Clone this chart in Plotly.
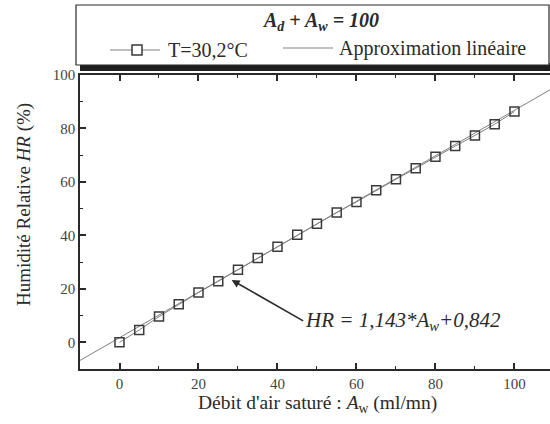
import plotly.graph_objects as go

# ---- data ----
aw = [0, 5, 10, 15, 20, 25, 30, 35, 40, 45, 50, 55, 60, 65, 70, 75, 80, 85, 90, 95, 100]
hr = [0, 4.6, 9.6, 14.2, 18.6, 22.8, 27.1, 31.5, 35.7, 40.2, 44.3, 48.6, 52.5,
      56.9, 61.0, 65.1, 69.4, 73.4, 77.4, 81.6, 86.3]
fit_x = [-10, 110]
fit_y = [-6.8, 95.3]
x_ticks = [0, 20, 40, 60, 80, 100]
y_ticks = [0, 20, 40, 60, 80, 100]

W, H = 550, 424
L, R, T, B = 80, 0, 75, 55
PW, PH = W - L - R, H - T - B


def px(x):
    return (x - L) / PW


def py(y):
    return (H - B - y) / PH


FONT = "Liberation Serif, Times New Roman, serif"
DARK = "#2a2a2a"

fig = go.Figure()
fig.add_trace(go.Scatter(x=fit_x, y=fit_y, mode="lines",
                         line=dict(color="#808080", width=1), showlegend=False,
                         hoverinfo="skip"))
fig.add_trace(go.Scatter(x=aw, y=hr, mode="lines+markers",
                         line=dict(color="#808080", width=1),
                         marker=dict(symbol="square-open", size=9,
                                     color="#3a3a3a", line=dict(width=1.5)),
                         showlegend=False, hoverinfo="skip"))

axis_common = dict(showgrid=False, zeroline=False, showline=True, linecolor=DARK,
                   linewidth=1.5, ticks="inside", ticklen=6, tickwidth=1.5,
                   tickcolor=DARK,
                   tickfont=dict(family=FONT, size=15, color="#444"),
                   minor=dict(ticks="inside", ticklen=3, tickwidth=1.2,
                              tickcolor=DARK, dtick=10))

fig.update_xaxes(range=[-10, 109], tickvals=x_ticks, mirror="ticks", **axis_common)
fig.update_yaxes(range=[-10, 100], tickvals=y_ticks, mirror=False, **axis_common)

shapes = []
# legend box with shadow
shapes.append(dict(type="rect", xref="paper", yref="paper",
                   x0=px(80), x1=px(552), y0=py(71), y1=py(63),
                   fillcolor="#1e1e1e", line=dict(width=0), layer="above"))
shapes.append(dict(type="rect", xref="paper", yref="paper",
                   x0=px(76), x1=px(549), y0=py(65), y1=py(5),
                   fillcolor="white", line=dict(color=DARK, width=1.2), layer="above"))
# legend entry 1: line + square
shapes.append(dict(type="line", xref="paper", yref="paper",
                   x0=px(110), x1=px(160), y0=py(50), y1=py(50),
                   line=dict(color="#808080", width=1), layer="above"))
shapes.append(dict(type="rect", xref="paper", yref="paper",
                   x0=px(132), x1=px(142), y0=py(55), y1=py(45),
                   fillcolor="white", line=dict(color="#3a3a3a", width=1.5), layer="above"))
# legend entry 2: line
shapes.append(dict(type="line", xref="paper", yref="paper",
                   x0=px(283), x1=px(333), y0=py(48), y1=py(48),
                   line=dict(color="#808080", width=1), layer="above"))

annotations = [
    dict(xref="paper", yref="paper", x=px(320), y=py(21), showarrow=False,
         text="<b><i>A<sub>d</sub> + A<sub>w</sub> = 100</i></b>",
         font=dict(family=FONT, size=20, color=DARK), xanchor="center", yanchor="middle"),
    dict(xref="paper", yref="paper", x=px(166), y=py(50), showarrow=False,
         text="T=30,2°C", font=dict(family=FONT, size=20, color=DARK),
         xanchor="left", yanchor="middle"),
    dict(xref="paper", yref="paper", x=px(337), y=py(48), showarrow=False,
         text="Approximation linéaire", font=dict(family=FONT, size=20, color=DARK),
         xanchor="left", yanchor="middle"),
    # axis titles
    dict(xref="paper", yref="paper", x=px(317), y=py(404), showarrow=False,
         text="Débit d'air saturé : <i>A</i><sub>w</sub> (ml/mn)",
         font=dict(family=FONT, size=19.5, color=DARK), xanchor="center", yanchor="middle"),
    dict(xref="paper", yref="paper", x=px(24), y=py(205), showarrow=False,
         text="Humidité Relative <i>HR</i> (%)", textangle=-90,
         font=dict(family=FONT, size=19, color=DARK), xanchor="center", yanchor="middle"),
    # equation with arrow
    dict(x=28.4, y=23.3, ax=46.5, ay=8, xref="x", yref="y", axref="x", ayref="y",
         text="<i>HR = 1,143*A<sub>w</sub>+0,842</i>", showarrow=True,
         arrowhead=2, arrowsize=1, arrowwidth=1.6, arrowcolor=DARK, standoff=0,
         xanchor="left", yanchor="middle",
         font=dict(family=FONT, size=21, color=DARK)),
]

fig.update_layout(width=W, height=H, margin=dict(l=L, r=R, t=T, b=B),
                  paper_bgcolor="white", plot_bgcolor="white",
                  shapes=shapes, annotations=annotations, showlegend=False,
                  hovermode=False)

fig.write_html("out.html", config={"displayModeBar": False},
               post_script="document.body.style.margin='0';document.body.style.padding='0';")
